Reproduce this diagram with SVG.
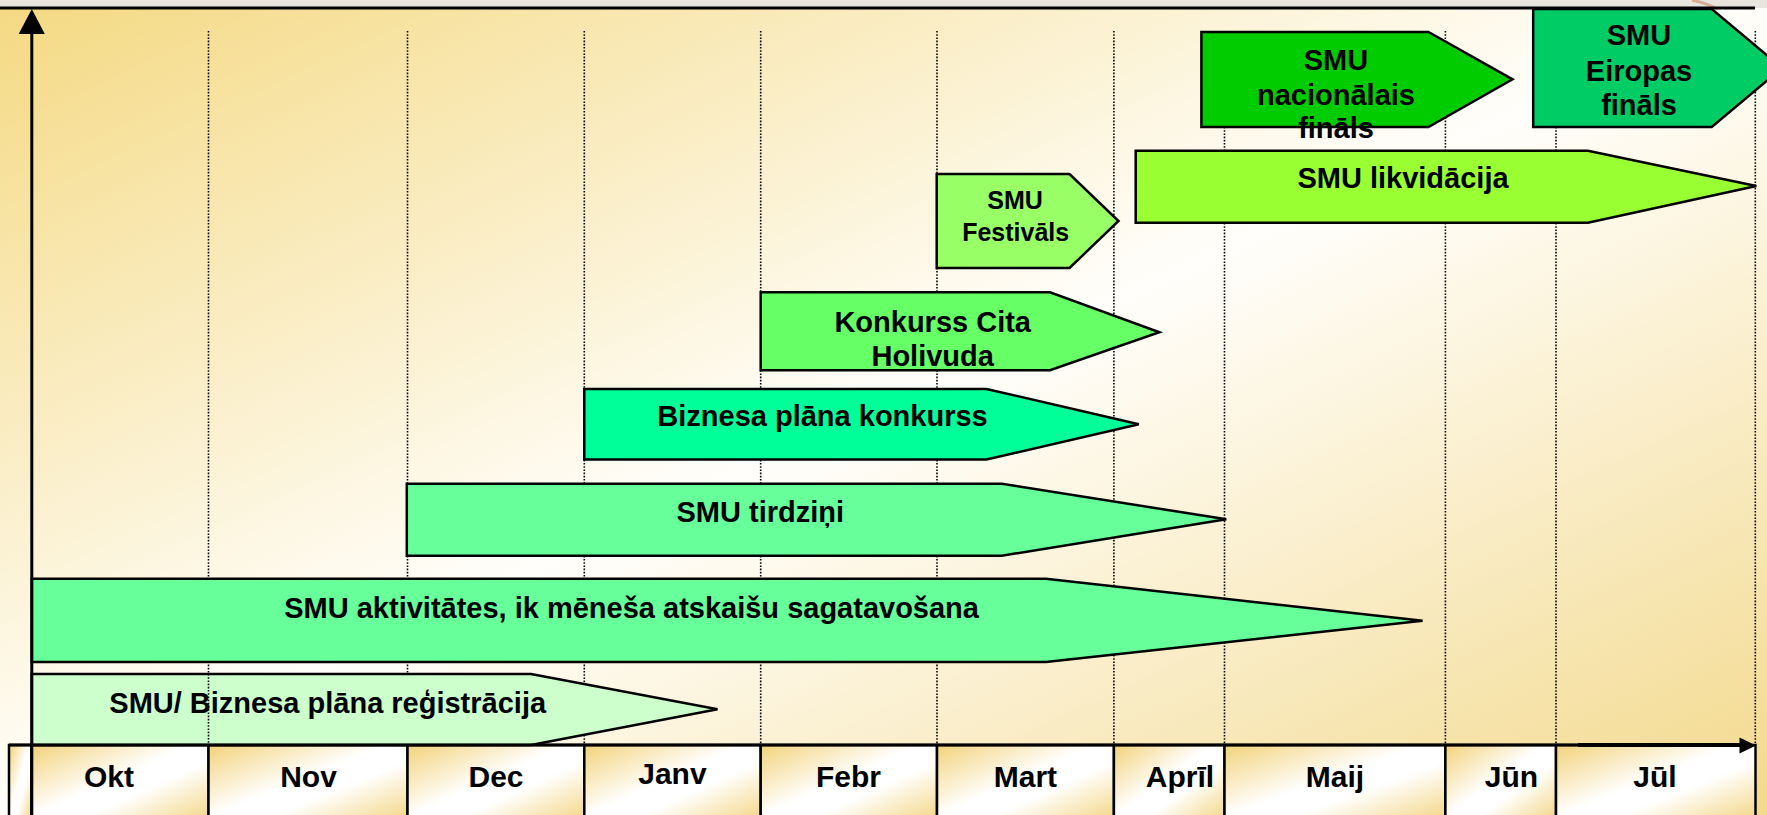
<svg xmlns="http://www.w3.org/2000/svg" width="1767" height="815" viewBox="0 0 1767 815">
<defs>
<linearGradient id="bg" x1="0" y1="0" x2="1" y2="1">
<stop offset="0" stop-color="#f4d982"/>
<stop offset="0.5" stop-color="#fffefb"/>
<stop offset="1" stop-color="#f3d98c"/>
</linearGradient>
<linearGradient id="cell" x1="0" y1="0" x2="1" y2="1">
<stop offset="0" stop-color="#f2d27a"/>
<stop offset="0.45" stop-color="#ffffff"/>
<stop offset="0.6" stop-color="#ffffff"/>
<stop offset="1" stop-color="#f2d27a"/>
</linearGradient>
</defs>
<style>
.bar{stroke:#000;stroke-width:2.5;stroke-linejoin:miter}
.lbl{font-family:"Liberation Sans",Arial,sans-serif;font-weight:bold;font-size:29px;fill:#000;text-anchor:middle}
.sm{font-size:25px}
.mon{font-size:30px}
.grid{stroke:#000;stroke-width:1.6;stroke-dasharray:1.6 1.6;fill:none}
.cellr{fill:url(#cell);stroke:#000;stroke-width:2.5}
.axis{stroke:#000;stroke-width:3;fill:none}
</style>
<rect x="0" y="0" width="1767" height="815" fill="url(#bg)"/>
<rect x="0" y="0" width="1767" height="8" fill="#e8e5df"/>
<path d="M1692,0 Q1706,3 1718,9" stroke="#cf9f80" stroke-width="3" fill="none" opacity="0.8"/>
<g id="grid">
<line class="grid" x1="208.5" y1="31" x2="208.5" y2="745"/>
<line class="grid" x1="407.5" y1="31" x2="407.5" y2="745"/>
<line class="grid" x1="584.3" y1="31" x2="584.3" y2="745"/>
<line class="grid" x1="760.7" y1="31" x2="760.7" y2="745"/>
<line class="grid" x1="937" y1="31" x2="937" y2="745"/>
<line class="grid" x1="1113.9" y1="31" x2="1113.9" y2="745"/>
<line class="grid" x1="1224.5" y1="31" x2="1224.5" y2="745"/>
<line class="grid" x1="1445.4" y1="31" x2="1445.4" y2="745"/>
<line class="grid" x1="1556" y1="31" x2="1556" y2="745"/>
<line class="grid" x1="1755.3" y1="31" x2="1755.3" y2="745"/>
</g>
<g id="months">
<rect class="cellr" x="9" y="745" width="22.6" height="80"/>
<rect class="cellr" x="31.6" y="745" width="176.9" height="80"/>
<rect class="cellr" x="208.5" y="745" width="199" height="80"/>
<rect class="cellr" x="407.5" y="745" width="176.8" height="80"/>
<rect class="cellr" x="584.3" y="745" width="176.4" height="80"/>
<rect class="cellr" x="760.7" y="745" width="176.3" height="80"/>
<rect class="cellr" x="937" y="745" width="176.9" height="80"/>
<rect class="cellr" x="1113.9" y="745" width="110.6" height="80"/>
<rect class="cellr" x="1224.5" y="745" width="220.9" height="80"/>
<rect class="cellr" x="1445.4" y="745" width="110.6" height="80"/>
<rect class="cellr" x="1556" y="745" width="199.5" height="80"/>
<text class="lbl mon" x="109" y="787">Okt</text>
<text class="lbl mon" x="308.5" y="787">Nov</text>
<text class="lbl mon" x="496" y="787">Dec</text>
<text class="lbl mon" x="672.4" y="784">Janv</text>
<text class="lbl mon" x="848.5" y="787">Febr</text>
<text class="lbl mon" x="1025.4" y="787">Mart</text>
<text class="lbl mon" x="1180" y="787">Aprīl</text>
<text class="lbl mon" x="1335" y="787">Maij</text>
<text class="lbl mon" x="1511.4" y="787">Jūn</text>
<text class="lbl mon" x="1655" y="787">Jūl</text>
</g>
<g id="node-registracija">
<polygon class="bar" fill="#ccffcc" points="31.8,674 531,674 717.5,709.3 531,745 31.8,745"/>
<text class="lbl" x="327.7" y="713.3">SMU/ Biznesa plāna reģistrācija</text>
<line class="grid" x1="208.5" y1="674" x2="208.5" y2="745"/>
</g>
<g id="node-aktivitates">
<polygon class="bar" fill="#66ff99" points="31.8,578.7 1046,578.7 1422.6,620.7 1046,662 31.8,662"/>
<text class="lbl" x="631.6" y="617.7">SMU aktivitātes, ik mēneša atskaišu sagatavošana</text>
</g>
<g id="node-tirdzini">
<polygon class="bar" fill="#66ff99" points="406.8,483.7 1001.8,483.7 1226.3,519.3 1001.8,555.7 406.8,555.7"/>
<text class="lbl" x="760.3" y="521.7">SMU tirdziņi</text>
</g>
<g id="node-biznesa-konkurss">
<polygon class="bar" fill="#00ff99" points="584.3,389 986.5,389 1138.8,424.3 986.5,459.5 584.3,459.5"/>
<text class="lbl" x="822.5" y="426">Biznesa plāna konkurss</text>
</g>
<g id="node-konkurss-holivuda">
<polygon class="bar" fill="#66ff66" points="760.7,292.3 1050,292.3 1159.4,332.3 1050,370.3 760.7,370.3"/>
<text class="lbl" x="932.7" y="331.7">Konkurss Cita</text>
<text class="lbl" x="932.7" y="366">Holivuda</text>
</g>
<g id="node-festivals">
<polygon class="bar" fill="#99ff66" points="936.7,174 1069.5,174 1118.5,221 1069.5,268 936.7,268"/>
<text class="lbl sm" x="1015" y="209.3">SMU</text>
<text class="lbl sm" x="1015.7" y="240.7">Festivāls</text>
</g>
<g id="node-likvidacija">
<polygon class="bar" fill="#99ff33" points="1135.7,150.7 1587.9,150.7 1756.3,186 1587.9,222.7 1135.7,222.7"/>
<text class="lbl" x="1403" y="188">SMU likvidācija</text>
</g>
<g id="node-nacionalais">
<polygon class="bar" fill="#00cc00" points="1201.4,32 1428.4,32 1512.5,79.3 1428.4,127 1201.4,127"/>
<text class="lbl" x="1336" y="70">SMU</text>
<text class="lbl" x="1336" y="105">nacionālais</text>
<text class="lbl" x="1336" y="138.3">fināls</text>
</g>
<g id="node-eiropas">
<polygon class="bar" fill="#00cc66" points="1533.2,9 1711.7,9 1782,68 1711.7,127 1533.2,127"/>
<text class="lbl" x="1639" y="45">SMU</text>
<text class="lbl" x="1639" y="81">Eiropas</text>
<text class="lbl" x="1639" y="115">fināls</text>
</g>
<g id="axes">
<line class="axis" x1="0" y1="8" x2="1755" y2="8"/>
<line class="axis" x1="31.8" y1="30" x2="31.8" y2="815"/>
<polygon fill="#000" points="31.8,9 18.7,34 44.8,34"/>
<line class="axis" x1="9" y1="745" x2="1741" y2="745"/>
<line x1="1578" y1="745" x2="1741" y2="745" stroke="#000" stroke-width="4"/>
<polygon fill="#000" points="1739.5,737.5 1756,745.5 1739.5,753.5"/>
</g>
</svg>
